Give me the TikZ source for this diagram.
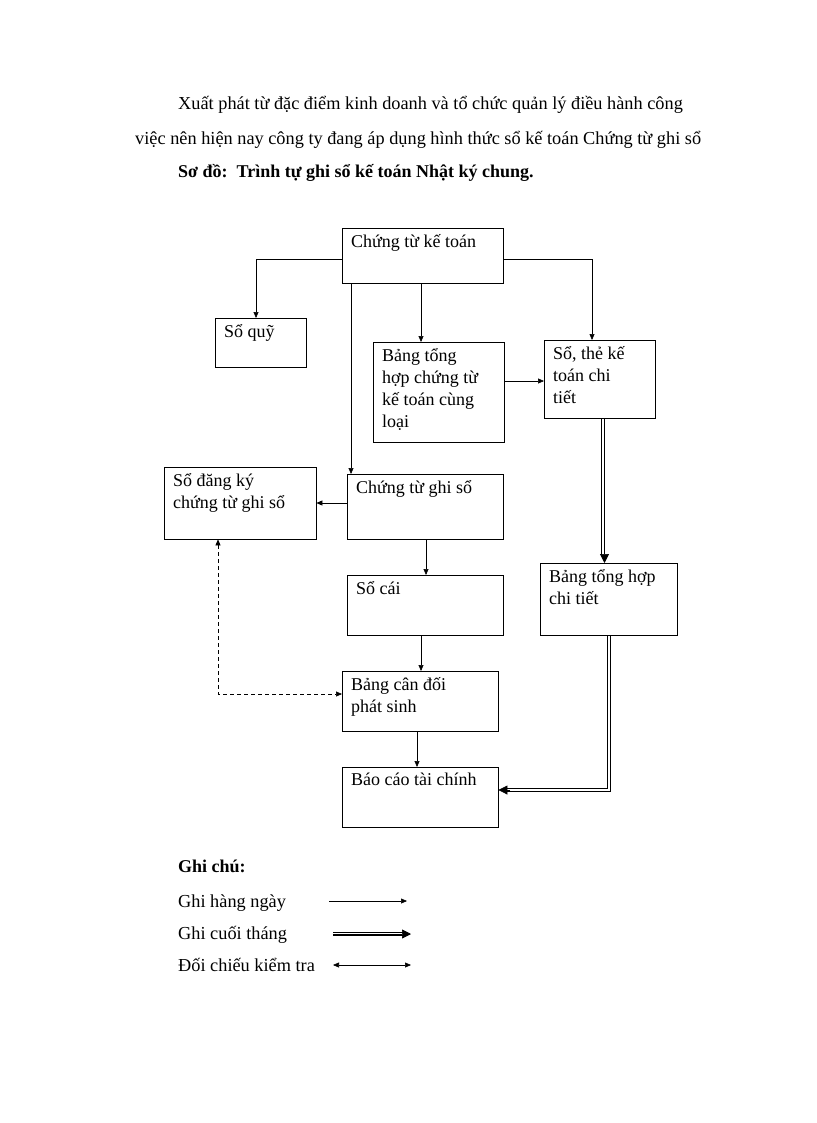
\documentclass[tikz,border=0pt]{standalone}
\usepackage{fontspec}
\setmainfont{Liberation Serif}
\usetikzlibrary{arrows.meta}

\tikzset{
  box/.style={draw,rectangle,inner sep=0pt},
  lbl/.style={anchor=north west,align=left,inner sep=0pt,font=\fontsize{18}{22}\selectfont},
  daily/.style={-{Triangle[length=6pt,width=5pt]},line width=0.6pt},
  rail/.style={line width=0.7pt},
  tip/.style={-{Triangle[length=9pt,width=9pt]},line width=0.7pt},
  check/.style={{Triangle[length=6pt,width=5pt]}-{Triangle[length=6pt,width=5pt]},line width=0.6pt,dash pattern=on 4pt off 3pt}
}
\newcommand{\bx}[6]{%
\node[box,minimum width={#4-#2},minimum height={#5-#3},anchor=north west] (#1) at (#2,#3) {};
\node[lbl] at (#2+9,#3+6) {#6};
}

\begin{document}
\begin{tikzpicture}[x=1pt,y=-1pt]
\useasboundingbox (0,0) rectangle (816,1123);
\tikzset{every node/.append style={font=\fontsize{18.3}{22}\selectfont}}

\node[anchor=base west,inner sep=0pt] (t1) at (178,110) {Xuất phát từ đặc điểm kinh doanh và tổ chức quản lý điều hành công};
\node[anchor=base west,inner sep=0pt] (t2) at (135,145) {việc nên hiện nay công ty đang áp dụng hình thức sổ kế toán Chứng từ ghi sổ};
\node[anchor=base west,inner sep=0pt,font=\fontsize{18}{22}\selectfont\bfseries] (t3) at (178,178) {Sơ đồ:\ \ Trình tự ghi sổ kế toán Nhật ký chung.};

% boxes
\bx{ctkt}{342}{228}{503}{283}{Chứng từ kế toán}
\bx{soquy}{215}{318}{306}{367}{Sổ quỹ}
\bx{bth}{373}{342}{504}{442}{Bảng tổng\\hợp chứng từ\\kế toán cùng\\loại}
\bx{sothe}{544}{340}{655}{418}{Sổ, thẻ kế\\toán chi\\tiết}
\bx{sodk}{164}{467}{316}{539}{Sổ đăng ký\\chứng từ ghi sổ}
\bx{ctgs}{347}{474}{503}{539}{Chứng từ ghi sổ}
\bx{socai}{347}{575}{503}{635}{Sổ cái}
\bx{bthct}{540}{563}{677}{635}{Bảng tổng hợp\\chi tiết}
\bx{bcd}{342}{671}{498}{731}{Bảng cân đối\\phát sinh}
\bx{bctc}{342}{767}{498}{827}{Báo cáo tài chính}

% connectors
\draw[daily] (ctkt.west |- 0,259) -| (soquy.north -| 256,0);
\draw[daily] (ctkt.south -| 421,0) -- (bth.north -| 421,0);
\draw[daily] (ctkt.east |- 0,259) -| (sothe.north -| 592,0);
\draw[daily] (ctkt.south -| 351,0) -- (ctgs.north -| 351,0);
\draw[daily] (bth.east |- 0,381) -- (sothe.west |- 0,381);
\draw[rail] (sothe.south -| 601.5,0) -- ++(0,137);
\draw[tip] (sothe.south -| 604.5,0) -- (bthct.north -| 604.5,0);
\draw[daily] (ctgs.west |- 0,503) -- (sodk.east |- 0,503);
\draw[daily] (ctgs.south -| 426,0) -- (socai.north -| 426,0);
\draw[daily] (socai.south -| 421,0) -- (bcd.north -| 421,0);
\draw[check] (sodk.south -| 218,0) |- (bcd.west |- 0,694);
\draw[daily] (bcd.south -| 417,0) -- (bctc.north -| 417,0);
\draw[rail] (bthct.south -| 607.5,0) |- (507,788.5);
\draw[rail] (bthct.south -| 610.5,0) |- (507,791.5);
\draw[tip] (510,790) -- (bctc.east |- 0,790);

% legend
\node[anchor=base west,inner sep=0pt,font=\fontsize{18}{22}\selectfont\bfseries] (gc) at (178,872) {Ghi chú:};
\node[anchor=base west,inner sep=0pt] (g1) at (178,907) {Ghi hàng ngày};
\node[anchor=base west,inner sep=0pt] (g2) at (178,939) {Ghi cuối tháng};
\node[anchor=base west,inner sep=0pt] (g3) at (178,971) {Đối chiếu kiểm tra};
\coordinate (a1) at (329,901); \coordinate (b1) at (407,901);
\coordinate (a2) at (333,934); \coordinate (b2) at (411,934);
\coordinate (a3) at (333,965); \coordinate (b3) at (411,965);
\draw[daily] (a1) -- (b1);
\draw[rail] ([yshift=-1.5pt]a2) -- ([yshift=-1.5pt,xshift=-4pt]b2);
\draw[rail] ([yshift=1.5pt]a2) -- ([yshift=1.5pt,xshift=-4pt]b2);
\draw[tip] (a2) -- (b2);
\draw[daily,{Triangle[length=6pt,width=5pt]}-{Triangle[length=6pt,width=5pt]}] (a3) -- (b3);
\end{tikzpicture}
\end{document}
